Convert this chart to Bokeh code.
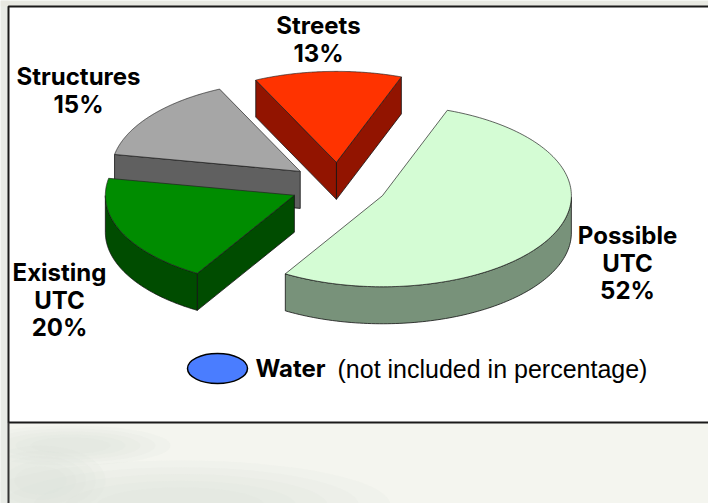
import numpy as np
from bokeh.plotting import figure
from bokeh.embed import file_html
from bokeh.resources import INLINE
from bokeh.core.properties import value
from bokeh.models import Range1d, ColumnDataSource

# ---- data ----
categories = ["Streets", "Structures", "Existing UTC", "Possible UTC"]
shares = [12.6, 15.0, 19.4, 53.0]  # slice sizes as drawn in the picture
top_colors = ["#ff3300", "#a6a6a6", "#008c00", "#d4fcd4"]
side_colors = ["#921400", "#606060", "#004c00", "#78927a"]
label_lines = [["Streets", "13%"], ["Structures", "15%"], ["Existing", "UTC", "20%"], ["Possible", "UTC", "52%"]]
draw_order = [1, 0, 3, 2]

# ---- pie geometry (page-pixel data space) ----
W, H = 708, 503
CX, CY = 338.1, 185.2
RX, RY = 189.0, 91.0
DEPTH = 37.0
EXPLODE = 48.5
START = 69.9

p = figure(width=W, height=H, output_backend="svg", toolbar_location=None,
           x_range=Range1d(0, W), y_range=Range1d(H, 0), min_border=0,
           outline_line_color=None,
           background_fill_color="#f4f5ef", border_fill_color="#f4f5ef")
p.axis.visible = False
p.grid.visible = False

# soft mottled backdrop: stacked faint ellipses
for bx, by, bw, bh in ((180, 505, 420, 90), (70, 445, 200, 40), (40, 480, 130, 70)):
    for s in (1.0, 0.85, 0.7, 0.55, 0.4):
        p.ellipse(x=[bx], y=[by], width=[bw * s], height=[bh * s],
                  fill_color="#d8dfdc", fill_alpha=0.13, line_color=None)
p.quad(left=[0], right=[8], top=[0], bottom=[H], fill_color="#e8ebe6", line_color=None)
p.quad(left=[0], right=[W], top=[0], bottom=[6], fill_color="#e8e9e2", line_color=None)

# panel
p.quad(left=[8], right=[W + 5], top=[6], bottom=[422], fill_color="white", line_color="#1a1a1a", line_width=2)
p.segment(x0=[8], x1=[8], y0=[422], y1=[H], line_color="#333333", line_width=2)


def pt(cx, cy, a):
    return cx + RX * np.cos(a), cy - RY * np.sin(a)


fr = np.cumsum([0] + shares) / sum(shares)
spans = [(np.radians(START) + 2 * np.pi * fr[i], np.radians(START) + 2 * np.pi * fr[i + 1]) for i in range(len(shares))]

for i in draw_order:
    a0, a1 = spans[i]
    mid = (a0 + a1) / 2
    cx = CX + EXPLODE * np.cos(mid)
    cy = CY - EXPLODE * RY / RX * np.sin(mid)
    side = side_colors[i]
    kw = dict(fill_color=side, line_color="#111111", line_width=0.8)
    for a, show in ((a0, np.cos(a0) > 0), (a1, np.cos(a1) < 0)):
        if show:
            ex, ey = pt(cx, cy, a)
            p.patch([cx, ex, ex, cx], [cy, ey, ey + DEPTH, cy + DEPTH], **kw)
    t = np.linspace(a0, a1, 160)
    t = t[np.sin(t) < 0]
    if len(t) > 1:
        xs, ys = pt(cx, cy, t)
        p.patch(np.r_[xs, xs[::-1]], np.r_[ys, ys[::-1] + DEPTH], **kw)
    t = np.linspace(a0, a1, 160)
    xs, ys = pt(cx, cy, t)
    p.patch(np.r_[cx, xs], np.r_[cy, ys], fill_color=top_colors[i], line_color="#222222", line_width=0.7)

# labels
label_pos = [(318, 25), (78, 76), (59, 272), (627, 235)]
FONT = value("Inter")
for lines, (lx, ly) in zip(label_lines, label_pos):
    src = ColumnDataSource(dict(x=[lx] * len(lines), y=[ly + 27.5 * k for k in range(len(lines))], t=lines))
    p.text(x="x", y="y", text="t", source=src, text_font=FONT, text_font_style="bold", text_font_size="24px",
           text_align="center", text_baseline="middle", text_color="black")

# water legend
p.ellipse(x=[217], y=[368], width=60, height=30, fill_color="#4a7dff", line_color="black", line_width=1.5)
p.text(x=[255], y=[368], text=["Water"], text_font=FONT, text_font_style="bold", text_font_size="24px",
       text_align="left", text_baseline="middle", text_color="black")
p.text(x=[337], y=[368], text=["(not included in percentage)"], text_font=value("Liberation Sans"), text_font_size="25px",
       text_align="left", text_baseline="middle", text_color="black")

open("out.html", "w").write(file_html(p, INLINE))
